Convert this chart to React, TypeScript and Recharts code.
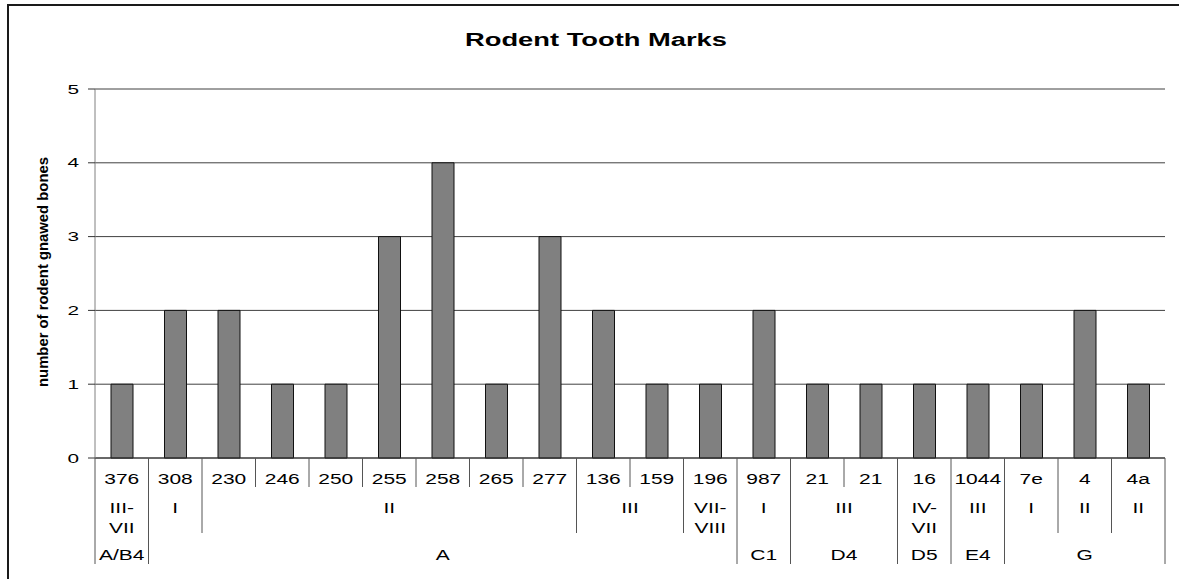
import { BarChart, Bar, XAxis, YAxis, CartesianGrid } from 'recharts'

const samples = ['376', '308', '230', '246', '250', '255', '258', '265', '277', '136', '159', '196', '987', '21', '21', '16', '1044', '7e', '4', '4a']
const gnawed = [1, 2, 2, 1, 1, 3, 4, 1, 3, 2, 1, 1, 2, 1, 1, 1, 1, 1, 2, 1]
// second axis row: phase label and how many samples it covers
const phases: [string, number][] = [
  ['III-VII', 1], ['I', 1], ['II', 7], ['III', 2], ['VII-VIII', 1], ['I', 1],
  ['III', 2], ['IV-VII', 1], ['III', 1], ['I', 1], ['II', 1], ['II', 1],
]
// third axis row: area
const areas: [string, number][] = [['A/B4', 1], ['A', 11], ['C1', 1], ['D4', 2], ['D5', 1], ['E4', 1], ['G', 3]]
const yTicks = [0, 1, 2, 3, 4, 5]

const W = 1179
const H = 579
const FONT = 'Arial, "Liberation Sans", sans-serif'

const data = samples.map((s, i) => ({ idx: String(i), sample: s, count: gnawed[i] }))

const toGroups = (list: [string, number][]) => {
  let start = 0
  return list.map(([label, n]) => {
    const g = { label, start, n }
    start += n
    return g
  })
}
const phaseGroups = toGroups(phases)
const areaGroups = toGroups(areas)
const phaseEdges = new Set(phaseGroups.map((g) => g.start))
const areaEdges = new Set([...areaGroups.map((g) => g.start), samples.length])

const sepEnd = (k: number) => (areaEdges.has(k) ? 106 : phaseEdges.has(k) ? 75 : 29)

const Stretched = ({ x, y, sx, children, anchor = 'middle', size = 15 }: any) => (
  <text
    transform={`translate(${x},${y}) scale(${sx},1)`}
    textAnchor={anchor}
    fontSize={size}
    fontFamily={FONT}
    fill="#000"
  >
    {children}
  </text>
)

function CategoryTick(props: any) {
  const { x, y, payload } = props
  const i = Number(payload.value)
  const half = typeof payload.offset === 'number' && payload.offset > 0 ? payload.offset : 26.75
  const left = x - half
  const phase = phaseGroups.find((g) => g.start === i)
  const area = areaGroups.find((g) => g.start === i)
  return (
    <g>
      <line x1={left} x2={left} y1={y} y2={y + sepEnd(i)} stroke="#555" />
      {i === samples.length - 1 && (
        <line x1={x + half} x2={x + half} y1={y} y2={y + sepEnd(i + 1)} stroke="#555" />
      )}
      <Stretched x={x} y={y + 25.5} sx={1.4}>{samples[i]}</Stretched>
      {phase &&
        (phase.n === 1 ? phase.label.split(/(?<=-)/) : [phase.label]).map((line, k) => (
          <Stretched key={k} x={left + phase.n * half} y={y + 55.3 + k * 19.7} sx={1.4}>
            {line}
          </Stretched>
        ))}
      {area && (
        <Stretched x={left + area.n * half} y={y + 102} sx={1.4}>
          {area.label}
        </Stretched>
      )}
    </g>
  )
}

function CountTick(props: any) {
  const { x, y, payload } = props
  return (
    <Stretched x={x} y={y + 4.6} sx={1.6} anchor="end" size={13}>
      {payload.value}
    </Stretched>
  )
}

export default function App() {
  return (
    <div style={{ position: 'absolute', left: 0, top: 0, width: W, height: H, overflow: 'hidden', background: '#fff' }}>
      <div style={{ position: 'absolute', left: 0, top: 0 }}>
        <BarChart width={W} height={H} data={data} margin={{ top: 89, right: 14, bottom: 11, left: 0 }}>
          <CartesianGrid vertical={false} stroke="#404040" />
          <XAxis
            dataKey="idx"
            interval={0}
            height={110}
            tickSize={0}
            tickMargin={0}
            tickLine={false}
            axisLine={{ stroke: '#333' }}
            tick={<CategoryTick />}
          />
          <YAxis
            width={95}
            domain={[0, 5]}
            ticks={yTicks}
            interval={0}
            tickSize={7}
            tickMargin={9}
            tickLine={{ stroke: '#333' }}
            axisLine={{ stroke: '#808080' }}
            tick={<CountTick />}
          />
          <Bar dataKey="count" fill="#808080" stroke="#111" strokeWidth={1} barSize={22} isAnimationActive={false} />
        </BarChart>
      </div>
      <svg width={W} height={H} style={{ position: 'absolute', left: 0, top: 0, pointerEvents: 'none' }}>
        {/* outer chart frame, cut off at the right and bottom edges */}
        <path d={`M8,${H} V5 H${W}`} fill="none" stroke="#1a1a1a" strokeWidth={2} />
        <text
          x={596}
          y={46}
          textAnchor="middle"
          fontSize={18}
          fontWeight="bold"
          fontFamily={FONT}
          textLength={262}
          lengthAdjust="spacingAndGlyphs"
        >
          Rodent Tooth Marks
        </text>
        <text
          transform="translate(48,272) rotate(-90)"
          textAnchor="middle"
          fontSize={14}
          fontWeight="bold"
          fontFamily={FONT}
          textLength={230}
          lengthAdjust="spacingAndGlyphs"
        >
          number of rodent gnawed bones
        </text>
      </svg>
    </div>
  )
}
